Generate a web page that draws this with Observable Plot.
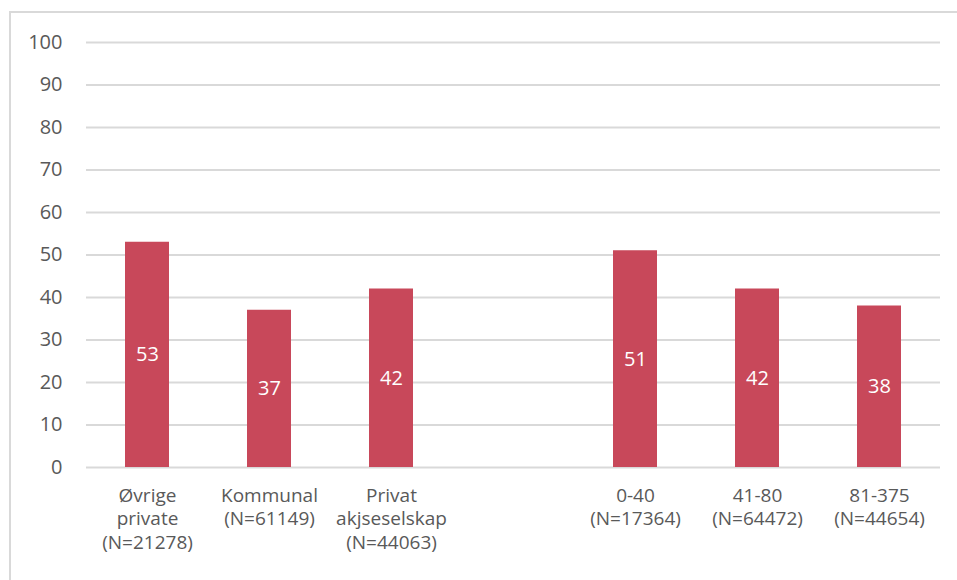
<!DOCTYPE html>
<html>
<head>
<meta charset="utf-8">
<script src="https://cdn.jsdelivr.net/npm/d3@7"></script>
<script src="https://cdn.jsdelivr.net/npm/@observablehq/plot@0.6"></script>
<style>
  html, body { margin: 0; padding: 0; background: #fff; }
  #wrap { position: relative; width: 957px; height: 580px; overflow: hidden; }
  #frame { position: absolute; left: 9px; top: 11px; width: 960px; height: 600px;
           border-top: 2px solid #d9d9d9; border-left: 2px solid #d9d9d9; pointer-events: none; }
</style>
</head>
<body>
<div id="wrap"><div id="frame"></div><div id="chart"></div></div>
<script>
const categories = ["Øvrige\nprivate\n(N=21278)", "Kommunal\n(N=61149)", "Privat\nakjseselskap\n(N=44063)", "gap", "0-40\n(N=17364)", "41-80\n(N=64472)", "81-375\n(N=44654)"];
const values = [53, 37, 42, null, 51, 42, 38];
const yTicks = [0, 10, 20, 30, 40, 50, 60, 70, 80, 90, 100];

const data = categories.map((c, i) => ({cat: c, value: values[i]})).filter(d => d.value != null);

const chart = Plot.plot({
  width: 957,
  height: 580,
  marginLeft: 86,
  marginRight: 17,
  marginTop: 42,
  marginBottom: 113,
  style: {fontFamily: "'Open Sans', sans-serif", fontSize: "19px", color: "#595959", background: "transparent"},
  x: {domain: categories, paddingInner: 0.64, paddingOuter: 0.32, label: null},
  y: {domain: [0, 100], label: null},
  marks: [
    Plot.gridY(yTicks, {stroke: "#d9d9d9", strokeOpacity: 1, strokeWidth: 2}),
    Plot.barY(data, {x: "cat", y: "value", fill: "#c8485a"}),
    Plot.text(data, {x: "cat", y: d => d.value / 2, text: d => String(d.value), fill: "white", fontSize: 20}),
    Plot.axisX({tickSize: 0, tickPadding: 17, tickFormat: d => d === "gap" ? "" : d, lineHeight: 1.26, fontSize: 19, fill: "#595959", textAnchor: "middle", lineAnchor: "top"}),
    Plot.axisY({ticks: yTicks, tickSize: 0, tickPadding: 24, fontSize: 20, fill: "#595959"})
  ]
});
document.getElementById("chart").appendChild(chart);
</script>
</body>
</html>
